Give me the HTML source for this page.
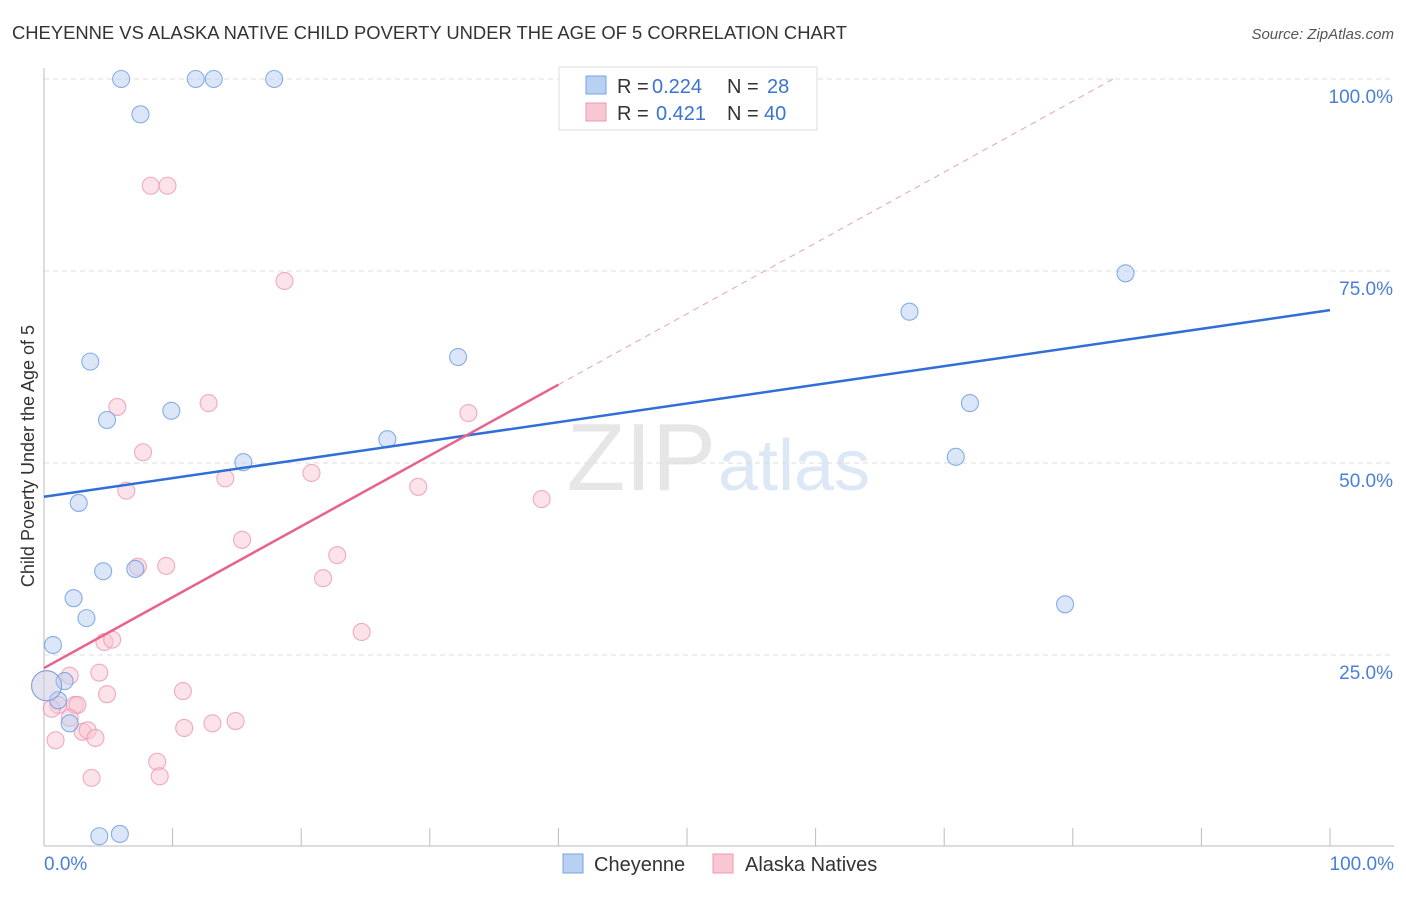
<!DOCTYPE html>
<html><head><meta charset="utf-8"><style>
body{margin:0;background:#fff;font-family:"Liberation Sans",sans-serif;}
svg text{font-family:"Liberation Sans",sans-serif;}
</style></head><body>
<svg width="1406" height="892" xmlns="http://www.w3.org/2000/svg">
<text x="12" y="39" font-size="18.4" fill="#333">CHEYENNE VS ALASKA NATIVE CHILD POVERTY UNDER THE AGE OF 5 CORRELATION CHART</text>
<text x="1394" y="39" font-size="15" fill="#555" font-style="italic" text-anchor="end">Source: ZipAtlas.com</text>
<text x="716" y="490" font-size="96" fill="#e6e6e6" text-anchor="end" font-family="Liberation Serif">ZIP</text>
<text x="718" y="490" font-size="72" fill="#dde8f6">atlas</text>
<g id="grid"></g>
<g id="axes"></g>
<g id="pts"></g>
<g id="lines"></g>
<text transform="translate(34,456) rotate(-90)" font-size="18" fill="#333" text-anchor="middle">Child Poverty Under the Age of 5</text>
<text x="44" y="870" font-size="19" fill="#4a7fd6">0.0%</text>
<text x="1394" y="870" font-size="19" fill="#4a7fd6" text-anchor="end">100.0%</text>
<g>
<rect x="559" y="67" width="258" height="63" fill="#fff" stroke="#ddd"/>
<rect x="586" y="76" width="20" height="18" fill="#b8d0f2" stroke="#7aa3e0"/>
<rect x="586" y="103" width="20" height="18" fill="#f9c6d4" stroke="#ee9ab2"/>
<text x="617" y="93" font-size="20" fill="#333">R =</text>
<text x="652" y="93" font-size="20" fill="#3b73d1">0.224</text>
<text x="727" y="93" font-size="20" fill="#333">N =</text>
<text x="767" y="93" font-size="20" fill="#3b73d1">28</text>
<text x="617" y="120" font-size="20" fill="#333">R =</text>
<text x="656" y="120" font-size="20" fill="#3b73d1">0.421</text>
<text x="727" y="120" font-size="20" fill="#333">N =</text>
<text x="764" y="120" font-size="20" fill="#3b73d1">40</text>
</g>
<g>
<rect x="563" y="854" width="20" height="19" fill="#b8d0f2" stroke="#7aa3e0"/>
<text x="594" y="871" font-size="20" fill="#333">Cheyenne</text>
<rect x="713" y="854" width="20" height="19" fill="#f9c6d4" stroke="#ee9ab2"/>
<text x="745" y="871" font-size="20" fill="#333">Alaska Natives</text>
</g>
</svg>
<script>
const yTicks=[25,50,75,100];
const yTickLabels=["25.0%","50.0%","75.0%","100.0%"];
const xTicks=[0,10,20,30,40,50,60,70,80,90,100];
const cheyX=[6.0,11.8,13.2,17.9,7.5,3.6,32.2,4.9,9.9,26.7,15.5,2.7,4.6,7.1,2.3,3.3,0.7,1.6,1.1,2.0,4.3,5.9,67.3,84.1,72.0,70.9,79.4,0.2];
const cheyY=[100,100,100,100,95.4,63.2,63.8,55.6,56.8,53.1,50.1,44.8,35.9,36.2,32.4,29.8,26.3,21.6,19.1,16.1,1.4,1.7,69.7,74.7,57.8,50.8,31.6,21.0];
const akX=[8.3,9.6,18.7,5.7,12.8,33.0,7.7,6.4,14.1,20.8,29.1,38.7,15.4,22.8,21.7,9.5,7.3,24.7,4.7,5.3,2.0,4.3,10.8,4.9,2.4,1.1,0.6,2.6,2.0,10.9,13.1,14.9,3.0,3.4,4.0,0.9,8.8,9.0,3.7,0.2];
const akY=[86.1,86.1,73.7,57.3,57.8,56.5,51.4,46.4,48.0,48.7,46.9,45.3,40.0,38.0,35.0,36.6,36.5,28.0,26.7,27.0,22.3,22.7,20.3,19.9,18.5,18.5,18.0,18.5,16.8,15.5,16.1,16.4,15.0,15.2,14.2,13.9,11.1,9.2,9.0,21.0];
const cheyTrend=[45.6,69.9];
const akTrend=[23.3,60.2];
const akTrendEndX=40;

const NS="http://www.w3.org/2000/svg";
const X=v=>44+v*12.86;
const Y=v=>847-v*7.68;
function mk(tag,attrs,parent){const e=document.createElementNS(NS,tag);for(const k in attrs)e.setAttribute(k,attrs[k]);document.getElementById(parent).appendChild(e);return e;}
yTicks.forEach((t,i)=>{
  const g=mk('line',{x1:44,x2:1394,y1:Y(t),y2:Y(t),stroke:'#ddd','stroke-dasharray':'5,4'},'grid');
  
  
  const tx=mk('text',{x:1393,y:Y(t)+24,'font-size':19,fill:'#4a7fd6','text-anchor':'end'},'grid');
  tx.textContent=yTickLabels[i];
  
  
});
let a=mk('line',{x1:44,x2:44,y1:68,y2:846,stroke:'#bbb'},'axes');


a=mk('line',{x1:44,x2:1394,y1:846,y2:846,stroke:'#bbb'},'axes');


xTicks.forEach(t=>{
  const l=mk('line',{x1:X(t),x2:X(t),y1:828,y2:846,stroke:'#bbb'},'axes');
  
  
});
function dots(xs,ys,fill,stroke,name){
  xs.forEach((x,i)=>{
    const big=(x<0.5&&Math.abs(ys[i]-21)<0.5);
    const c=mk('circle',{cx:X(x),cy:Y(ys[i]),r:big?15:8.5,fill:fill,'fill-opacity':big?0.35:0.5,stroke:stroke,'stroke-opacity':0.8,'stroke-width':1.1},'pts');
    
    
  });
}
dots(akX,akY,'#f9c6d4','#ec98b1','alaska-point');
dots(cheyX,cheyY,'#b8d0f2','#6d9be0','cheyenne-point');
let l=mk('line',{x1:X(0),y1:Y(cheyTrend[0]),x2:X(100),y2:Y(cheyTrend[1]),stroke:'#2f6fd6','stroke-width':2.5},'lines');


const slope=(akTrend[1]-akTrend[0])/akTrendEndX;
l=mk('line',{x1:X(0),y1:Y(akTrend[0]),x2:X(akTrendEndX),y2:Y(akTrend[1]),stroke:'#e8628e','stroke-width':2.5},'lines');


const xe=(100-akTrend[0])/slope;
l=mk('line',{x1:X(akTrendEndX),y1:Y(akTrend[1]),x2:X(xe),y2:Y(100),stroke:'#eaa0b8','stroke-width':1,'stroke-dasharray':'6,5'},'lines');


</script>
</body></html>
